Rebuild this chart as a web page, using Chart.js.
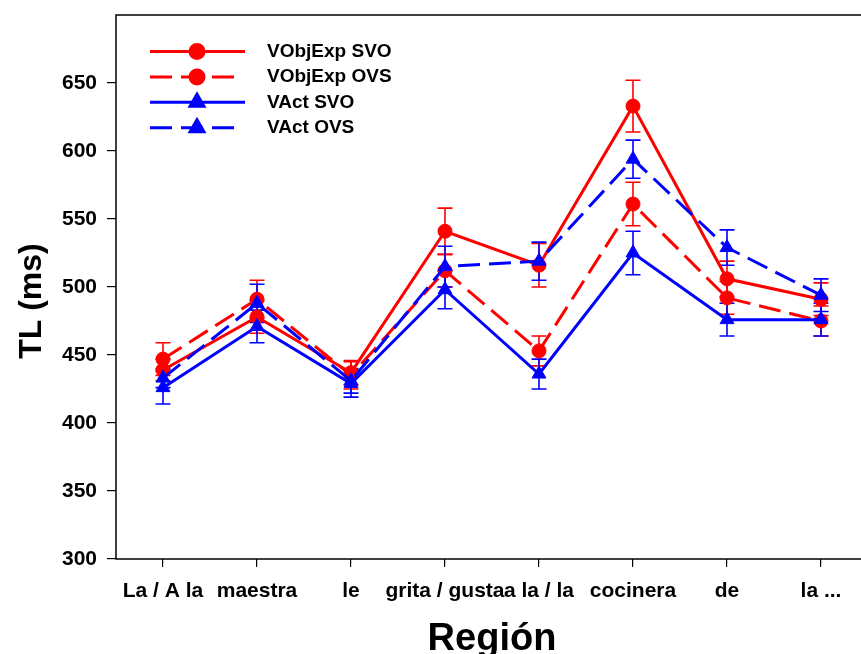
<!DOCTYPE html>
<html>
<head>
<meta charset="utf-8">
<script src="https://cdn.jsdelivr.net/npm/chart.js@4/dist/chart.umd.min.js"></script>
<style>
  html, body { margin: 0; padding: 0; background: #fff; overflow: hidden; }
  #wrap { position: relative; width: 861px; height: 654px; overflow: hidden; }
  #tl { position: absolute; left: 0; top: 0; }
</style>
</head>
<body>
<div id="wrap"><canvas id="tl" width="870" height="654"></canvas></div>
<script>
// regions of the sentence
var regions = ['La / A la', 'maestra', 'le', 'grita / gusta', 'a la / la', 'cocinera', 'de', 'la ...'];

// mean reading times (ms)
var vobjSvo = [439, 478, 437, 541, 516, 633, 506, 491];
var vobjOvs = [447, 491, 435, 512, 453, 561, 492, 475];
var vactSvo = [426, 471, 429, 498, 436, 525, 476, 476];
var vactOvs = [433, 488, 431, 515, 519, 594, 529, 494];

// standard errors
var vobjSvoErr = [8, 12, 9, 17, 16, 19, 13, 12];
var vobjOvsErr = [12, 14, 10, 12, 11, 16, 12, 11];
var vactSvoErr = [12, 12, 10, 14, 11, 16, 12, 12];
var vactOvsErr = [7, 14, 9, 15, 14, 14, 13, 12];

var yTicks = [300, 350, 400, 450, 500, 550, 600, 650];

var RED = '#FF0000';
var BLUE = '#0000FF';
var DASH = [22, 9];
var FONT = "'Liberation Sans', Arial, sans-serif";

Chart.defaults.font.family = FONT;
Chart.defaults.color = '#000';

function series(label, data, err, color, dashed, shape, order) {
    return {
        label: label,
        data: data,
        err: err,
        borderColor: color,
        backgroundColor: color,
        borderWidth: 3,
        borderDash: dashed ? DASH : [],
        pointStyle: shape,
        pointRadius: shape === 'triangle' ? 8 : 7,
        pointBorderWidth: 1,
        tension: 0,
        order: order
    };
}

// vertical error bars with caps, behind the lines
var errorBars = {
    id: 'errorBars',
    beforeDatasetsDraw: function (chart) {
        var ctx = chart.ctx;
        var y = chart.scales.y;
        ctx.save();
        chart.data.datasets.forEach(function (ds, di) {
            var meta = chart.getDatasetMeta(di);
            ctx.strokeStyle = ds.borderColor;
            ctx.lineWidth = 1.6;
            ds.data.forEach(function (v, i) {
                var x = meta.data[i].x;
                var top = y.getPixelForValue(v + ds.err[i]);
                var bot = y.getPixelForValue(v - ds.err[i]);
                ctx.beginPath();
                ctx.moveTo(x, top); ctx.lineTo(x, bot);
                ctx.moveTo(x - 7.5, top); ctx.lineTo(x + 7.5, top);
                ctx.moveTo(x - 7.5, bot); ctx.lineTo(x + 7.5, bot);
                ctx.stroke();
            });
        });
        ctx.restore();
    }
};

// plot frame and the rotated y title
var frame = {
    id: 'frame',
    beforeDatasetsDraw: function (chart) {
        var a = chart.chartArea;
        var ctx = chart.ctx;
        ctx.save();
        ctx.strokeStyle = '#000';
        ctx.lineWidth = 1.5;
        ctx.strokeRect(a.left, a.top, a.right - a.left, a.bottom - a.top);
        ctx.translate(32, 301);
        ctx.rotate(-Math.PI / 2);
        ctx.fillStyle = '#000';
        ctx.font = 'bold 32px ' + FONT;
        ctx.textAlign = 'center';
        ctx.textBaseline = 'middle';
        ctx.fillText('TL (ms)', 0, 0);
        ctx.restore();
    }
};

// legend in the upper left corner of the plot
var cornerLegend = {
    id: 'cornerLegend',
    afterDatasetsDraw: function (chart) {
        var ctx = chart.ctx;
        ctx.save();
        chart.data.datasets.forEach(function (ds, i) {
            var yy = 51.5 + i * 25.4;
            ctx.strokeStyle = ds.borderColor;
            ctx.lineWidth = 3;
            ctx.setLineDash(ds.borderDash);
            ctx.beginPath();
            ctx.moveTo(150, yy);
            ctx.lineTo(ds.borderDash.length ? 235 : 245, yy);
            ctx.stroke();
            ctx.setLineDash([]);
            ctx.fillStyle = ds.borderColor;
            Chart.helpers.drawPoint(ctx, { pointStyle: ds.pointStyle, radius: ds.pointRadius, rotation: 0, borderWidth: 1 }, 197, yy);
            ctx.fillStyle = '#000';
            ctx.font = 'bold 19px ' + FONT;
            ctx.textBaseline = 'middle';
            ctx.textAlign = 'left';
            ctx.fillText(ds.label, 267, yy);
        });
        ctx.restore();
    }
};

// drop the label overhang padding so the plot box keeps its place
function noPadding(s) {
    s.paddingTop = 0;
    s.paddingBottom = 0;
    s.paddingLeft = 0;
    s.paddingRight = 0;
}

var ctx = document.getElementById('tl');
var chart = new Chart(ctx, {
    type: 'line',
    data: {
        labels: regions,
        datasets: [
            series('VObjExp SVO', vobjSvo, vobjSvoErr, RED, false, 'circle', 1),
            series('VObjExp OVS', vobjOvs, vobjOvsErr, RED, true, 'circle', 1),
            series('VAct SVO', vactSvo, vactSvoErr, BLUE, false, 'triangle', 0),
            series('VAct OVS', vactOvs, vactOvsErr, BLUE, true, 'triangle', 0)
        ]
    },
    options: {
        responsive: false,
        animation: false,
        layout: { autoPadding: false, padding: { left: 0, right: 2, top: 15, bottom: 0 } },
        plugins: {
            legend: { display: false },
            tooltip: { enabled: false }
        },
        scales: {
            x: {
                offset: true,
                grid: {
                    offset: false,
                    drawOnChartArea: false,
                    drawTicks: true,
                    tickLength: 8,
                    color: '#000',
                    lineWidth: 1.2
                },
                border: { display: false },
                ticks: {
                    autoSkip: false,
                    maxRotation: 0,
                    padding: 12,
                    font: { size: 21, weight: 'bold' }
                },
                title: {
                    display: true,
                    text: 'Región',
                    font: { size: 38, weight: 'bold', lineHeight: 0.75 },
                    padding: { top: 0, bottom: 0 }
                },
                afterFit: function (s) { s.height = 95; noPadding(s); }
            },
            y: {
                min: 300,
                max: 700,
                grid: {
                    drawOnChartArea: false,
                    drawTicks: true,
                    tickLength: 9,
                    color: '#000',
                    lineWidth: 1.2
                },
                border: { display: false },
                afterBuildTicks: function (s) {
                    s.ticks = yTicks.map(function (v) { return { value: v }; });
                },
                ticks: {
                    padding: 10,
                    font: { size: 21, weight: 'bold' }
                },
                afterFit: function (s) { s.width = 116; noPadding(s); }
            }
        }
    },
    plugins: [frame, errorBars, cornerLegend]
});
</script>
</body>
</html>
